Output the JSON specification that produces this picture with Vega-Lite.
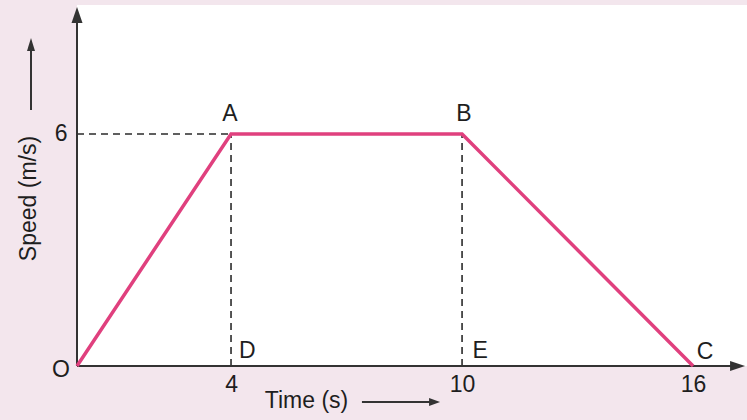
{
  "$schema": "https://vega.github.io/schema/vega-lite/v6.json",
  "width": 670,
  "height": 361,
  "autosize": {"type": "none"},
  "padding": {"left": 77, "top": 5, "right": 0, "bottom": 54},
  "background": "#f3e6ed",
  "config": {
    "view": {"fill": "#ffffff", "stroke": null},
    "font": "Liberation Sans"
  },
  "datasets": {
    "profile": [
      {"time": 0, "speed": 0},
      {"time": 4, "speed": 6},
      {"time": 10, "speed": 6},
      {"time": 16, "speed": 0}
    ],
    "dashes": [
      {"x": 0, "y": 6, "x2": 4, "y2": 6},
      {"x": 4, "y": 0, "x2": 4, "y2": 6},
      {"x": 10, "y": 0, "x2": 10, "y2": 6}
    ],
    "lines": [
      {"x": 0, "y": 0, "x2": 17.1, "y2": 0},
      {"x": 0, "y": 0, "x2": 0, "y2": 9.0},
      {"x": 7.4, "y": -0.931, "x2": 9.2, "y2": -0.931},
      {"x": -1.195, "y": 6.62, "x2": -1.195, "y2": 8.3}
    ],
    "heads": [
      {"x": 0, "y": 9.077, "kind": "axis-up"},
      {"x": 17.155, "y": 0, "kind": "axis-right"},
      {"x": -1.195, "y": 8.314, "kind": "title-up"},
      {"x": 9.286, "y": -0.931, "kind": "title-right"}
    ],
    "labels": [
      {"x": -0.416, "y": -0.1, "label": "O"},
      {"x": 3.97, "y": 6.52, "label": "A"},
      {"x": 10.05, "y": 6.52, "label": "B"},
      {"x": 16.31, "y": 0.36, "label": "C"},
      {"x": 4.42, "y": 0.39, "label": "D"},
      {"x": 10.47, "y": 0.39, "label": "E"}
    ]
  },
  "layer": [
    {
      "data": {"name": "dashes"},
      "mark": {"type": "rule", "color": "#2b2b2b", "strokeWidth": 1.6, "strokeDash": [7, 5], "clip": false},
      "encoding": {
        "x": {"field": "x", "type": "quantitative", "scale": {"domain": [0, 17.4], "nice": false, "zero": false},
          "axis": {"values": [4, 10, 16], "title": "Time (s)", "domain": false, "ticks": false, "grid": false,
            "labelFont": "Liberation Sans", "labelFontSize": 23, "labelColor": "#1e1e1e", "labelPadding": 18, "labelBaseline": "middle", "labelFlush": false, "labelOverlap": false,
            "titleFont": "Liberation Sans", "titleFontSize": 23, "titleFontWeight": "normal", "titleColor": "#1e1e1e",
            "titleX": 229, "titleY": 34, "titleBaseline": "middle", "titleAnchor": "start", "titleAlign": "center"}},
        "y": {"field": "y", "type": "quantitative", "scale": {"domain": [0, 9.335], "nice": false, "zero": false},
          "axis": {"values": [6], "title": "Speed (m/s)", "domain": false, "ticks": false, "grid": false,
            "labelFont": "Liberation Sans", "labelFontSize": 23, "labelColor": "#1e1e1e", "labelPadding": 10,
            "titleFont": "Liberation Sans", "titleFontSize": 23, "titleFontWeight": "normal", "titleColor": "#1e1e1e",
            "titleX": -49, "titleY": 193, "titleAngle": -90, "titleBaseline": "middle", "titleAlign": "center", "titleAnchor": "start"}},
        "x2": {"field": "x2"},
        "y2": {"field": "y2"}
      }
    },
    {
      "data": {"name": "lines"},
      "mark": {"type": "rule", "color": "#333333", "strokeWidth": 2, "clip": false},
      "encoding": {
        "x": {"field": "x", "type": "quantitative"},
        "y": {"field": "y", "type": "quantitative"},
        "x2": {"field": "x2"},
        "y2": {"field": "y2"}
      }
    },
    {
      "data": {"name": "heads"},
      "transform": [{"filter": "datum.kind === 'axis-up'"}],
      "mark": {"type": "point", "filled": true, "color": "#333333", "opacity": 1, "clip": false,
        "shape": "M0,-8L5.5,8L-5.5,8Z", "size": 4},
      "encoding": {
        "x": {"field": "x", "type": "quantitative"},
        "y": {"field": "y", "type": "quantitative"}
      }
    },
    {
      "data": {"name": "heads"},
      "transform": [{"filter": "datum.kind === 'axis-right'"}],
      "mark": {"type": "point", "filled": true, "color": "#333333", "opacity": 1, "clip": false,
        "shape": "M7.5,0L-7.5,5L-7.5,-5Z", "size": 4},
      "encoding": {
        "x": {"field": "x", "type": "quantitative"},
        "y": {"field": "y", "type": "quantitative"}
      }
    },
    {
      "data": {"name": "heads"},
      "transform": [{"filter": "datum.kind === 'title-up'"}],
      "mark": {"type": "point", "filled": true, "color": "#333333", "opacity": 1, "clip": false,
        "shape": "M0,-6.5L4,6.5L-4,6.5Z", "size": 4},
      "encoding": {
        "x": {"field": "x", "type": "quantitative"},
        "y": {"field": "y", "type": "quantitative"}
      }
    },
    {
      "data": {"name": "heads"},
      "transform": [{"filter": "datum.kind === 'title-right'"}],
      "mark": {"type": "point", "filled": true, "color": "#333333", "opacity": 1, "clip": false,
        "shape": "M5.5,0L-5.5,4L-5.5,-4Z", "size": 4},
      "encoding": {
        "x": {"field": "x", "type": "quantitative"},
        "y": {"field": "y", "type": "quantitative"}
      }
    },
    {
      "data": {"name": "profile"},
      "mark": {"type": "line", "color": "#e0407e", "strokeWidth": 3.5, "strokeJoin": "miter", "clip": false},
      "encoding": {
        "x": {"field": "time", "type": "quantitative"},
        "y": {"field": "speed", "type": "quantitative"}
      }
    },
    {
      "data": {"name": "labels"},
      "mark": {"type": "text", "font": "Liberation Sans", "fontSize": 23, "color": "#1e1e1e", "align": "center", "baseline": "middle", "clip": false},
      "encoding": {
        "x": {"field": "x", "type": "quantitative"},
        "y": {"field": "y", "type": "quantitative"},
        "text": {"field": "label"}
      }
    }
  ]
}
